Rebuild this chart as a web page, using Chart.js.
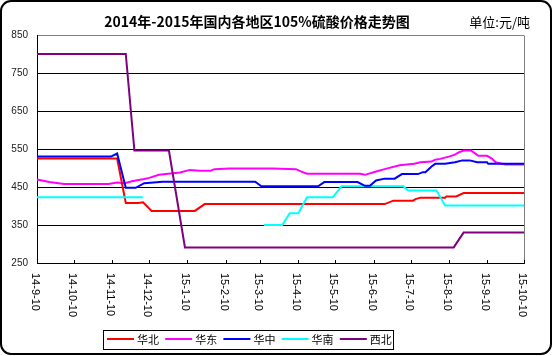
<!DOCTYPE html>
<html><head><meta charset="utf-8">
<script src="https://cdn.jsdelivr.net/npm/chart.js@4.4.0/dist/chart.umd.min.js"></script>
<style>html,body{margin:0;padding:0;background:#fff;}canvas{display:block;}</style>
</head><body>
<canvas id="c" width="553" height="356"></canvas>
<script>
// ---- text ----
const titleText = '2014年-2015年国内各地区105%硫酸价格走势图';
const unitText = '单位:元/吨';
const tickLabels = ['14-9-10','14-10-10','14-11-10','14-12-10','15-1-10','15-2-10','15-3-10',
  '15-4-10','15-5-10','15-6-10','15-7-10','15-8-10','15-9-10','15-10-10'];
const yMin = 250, yMax = 850, yStep = 100;

// ---- series: [date, price] (null = no data) ----
const seriesNames = ['华北','华东','华中','华南','西北'];
const seriesColors = ['#FF0000','#FF00FF','#0000FF','#00FFFF','#800080'];

const huabei = [
  ['2014-09-10',525],['2014-11-14',525],['2014-11-21',408],['2014-12-01',408],['2014-12-05',410],
  ['2014-12-12',387],['2015-01-16',387],['2015-01-24',405],['2015-06-19',405],['2015-06-26',414],
  ['2015-07-12',414],['2015-07-14',418],['2015-07-18',422],['2015-08-07',422],['2015-08-08',425],
  ['2015-08-16',425],['2015-08-22',434],['2015-10-10',434]
];
const huadong = [
  ['2014-09-10',470],['2014-09-20',463],['2014-10-02',458],['2014-11-07',458],['2014-11-14',462],
  ['2014-11-20',460],['2014-11-26',465],['2014-12-06',471],['2014-12-10',474],['2014-12-18',482],
  ['2015-01-04',488],['2015-01-12',495],['2015-01-20',493],['2015-01-29',493],['2015-02-01',497],
  ['2015-02-13',499],['2015-03-20',499],['2015-04-08',497],['2015-04-12',491],['2015-04-17',485],
  ['2015-05-30',485],['2015-06-03',482],['2015-06-12',491],['2015-06-19',497],['2015-07-01',507],
  ['2015-07-13',511],['2015-07-18',515],['2015-07-27',517],['2015-07-30',522],['2015-08-03',524],
  ['2015-08-10',530],['2015-08-15',535],['2015-08-18',541],['2015-08-22',546],['2015-08-28',546],
  ['2015-08-31',539],['2015-09-03',532],['2015-09-10',532],['2015-09-14',525],['2015-09-17',515],
  ['2015-09-21',512],['2015-09-25',509],['2015-10-10',509]
];
const huazhong = [
  ['2014-09-10',530],['2014-11-09',530],['2014-11-14',538],['2014-11-21',448],['2014-11-29',448],
  ['2014-12-06',460],['2014-12-21',464],['2015-03-06',464],['2015-03-11',452],['2015-04-26',452],
  ['2015-05-01',463],['2015-05-28',463],['2015-06-03',453],['2015-06-07',453],['2015-06-12',467],
  ['2015-06-19',472],['2015-06-27',472],['2015-07-03',484],['2015-07-16',484],['2015-07-20',489],
  ['2015-07-22',489],['2015-07-24',495],['2015-07-27',504],['2015-07-30',511],['2015-08-07',511],
  ['2015-08-15',515],['2015-08-21',520],['2015-08-27',520],['2015-09-02',515],['2015-09-10',515],
  ['2015-09-11',511],['2015-10-10',511]
];
const huanan = [
  ['2014-09-10',423],['2014-12-05',423],['2015-01-10',null],['2015-03-13',350],['2015-03-28',350],
  ['2015-04-03',381],['2015-04-10',381],['2015-04-17',423],['2015-05-08',423],['2015-05-15',452],
  ['2015-07-04',452],['2015-07-08',441],['2015-07-31',441],['2015-08-07',401],['2015-10-10',401]
];
const xibei = [
  ['2014-09-10',800],['2014-11-21',800],['2014-11-28',546],['2014-12-26',546],['2015-01-08',291],
  ['2015-08-14',291],['2015-08-22',330],['2015-10-10',330]
];
const seriesData = [huabei, huadong, huazhong, huanan, xibei];
const seriesOrder = [4, 5, 2, 3, 1]; // lower = drawn on top

// ---- helpers ----
const origin = Date.UTC(2014, 8, 10);
function dayOf(s) {
  const p = s.split('-').map(Number);
  const y = p[0] < 100 ? 2000 + p[0] : p[0];
  return Math.round((Date.UTC(y, p[1] - 1, p[2]) - origin) / 864e5);
}
const tickDays = tickLabels.map(dayOf);

const datasets = seriesData.map((s, i) => ({
  label: seriesNames[i],
  data: s.map(([d, v]) => ({ x: dayOf(d), y: v })),
  borderColor: seriesColors[i],
  backgroundColor: seriesColors[i],
  borderWidth: 2,
  pointRadius: 0,
  tension: 0,
  spanGaps: false,
  order: seriesOrder[i]
}));

const decor = {
  id: 'decor',
  beforeDraw(chart) {
    const c = chart.ctx;
    c.save(); c.fillStyle = '#fff'; c.fillRect(0, 0, chart.width, chart.height); c.restore();
  },
  afterDraw(chart) {
    const c = chart.ctx, a = chart.chartArea, xs = chart.scales.x;
    c.save();
    // right gray border of the plot
    c.strokeStyle = '#808080'; c.lineWidth = 1;
    c.beginPath();
    c.moveTo(Math.round(a.right) + 0.5, Math.round(a.top) + 0.5);
    c.lineTo(Math.round(a.right) + 0.5, Math.round(a.bottom));
    c.stroke();
    // x tick marks (inside) and rotated labels
    c.strokeStyle = '#000';
    c.fillStyle = '#000';
    c.font = '11px "Liberation Sans", Arial, sans-serif';
    tickDays.forEach((d, i) => {
      const px = Math.round(xs.getPixelForValue(d)) + 0.5;
      c.beginPath(); c.moveTo(px, a.bottom - 3); c.lineTo(px, a.bottom); c.stroke();
      c.save();
      c.translate(px - 2.5, a.bottom + 10);
      c.rotate(Math.PI / 2);
      c.textAlign = 'left'; c.textBaseline = 'middle';
      c.fillText(tickLabels[i], 0, 0);
      c.restore();
    });
    // title + unit
    c.textBaseline = 'middle';
    c.textAlign = 'center';
    c.font = 'bold 14px "Noto Sans CJK SC", sans-serif';
    c.fillText(titleText, 257, 22);
    c.textAlign = 'right';
    c.font = '13px "Noto Sans CJK SC", sans-serif';
    c.fillText(unitText, 530, 22);
    // legend
    c.lineWidth = 1; c.strokeStyle = '#000';
    c.strokeRect(103.5, 330.5, 290, 19);
    c.font = '11px "Noto Sans CJK SC", sans-serif';
    c.textAlign = 'left';
    chart.data.datasets.forEach((ds, i) => {
      const x0 = 107 + i * 58.2;
      c.strokeStyle = ds.borderColor; c.lineWidth = 2;
      c.beginPath(); c.moveTo(x0, 339); c.lineTo(x0 + 27, 339); c.stroke();
      c.fillStyle = '#000';
      c.fillText(ds.label, x0 + 30, 340);
    });
    // outer rounded frame
    const fx = 1, fy = 1, fw = 550, fh = 353, r = 10;
    c.strokeStyle = '#000'; c.lineWidth = 2;
    c.beginPath();
    c.moveTo(fx + r, fy);
    c.arcTo(fx + fw, fy, fx + fw, fy + fh, r);
    c.arcTo(fx + fw, fy + fh, fx, fy + fh, r);
    c.arcTo(fx, fy + fh, fx, fy, r);
    c.arcTo(fx, fy, fx + fw, fy, r);
    c.closePath();
    c.stroke();
    c.restore();
  }
};

new Chart(document.getElementById('c'), {
  type: 'line',
  data: { datasets },
  options: {
    responsive: false,
    animation: false,
    devicePixelRatio: 1,
    layout: { padding: { top: 35, right: 29, bottom: 0, left: 0 } },
    plugins: { legend: { display: false }, title: { display: false }, tooltip: { enabled: false } },
    scales: {
      x: {
        type: 'linear', min: tickDays[0], max: tickDays[tickDays.length - 1],
        ticks: { display: false },
        grid: { display: true, drawOnChartArea: false, drawTicks: false },
        border: { display: true, color: '#000', width: 1 },
        afterFit(s) { s.height = 93; }
      },
      y: {
        min: yMin, max: yMax,
        ticks: { stepSize: yStep, padding: 9, color: '#222', font: { family: '"Liberation Sans", Arial, sans-serif', size: 10 } },
        grid: { drawTicks: false, color: (ctx) => ctx.tick && ctx.tick.value === yMax ? '#808080' : '#000' },
        border: { display: true, color: '#000', width: 1 },
        afterFit(s) { s.width = 37; }
      }
    }
  },
  plugins: [decor]
});
</script>
</body></html>
